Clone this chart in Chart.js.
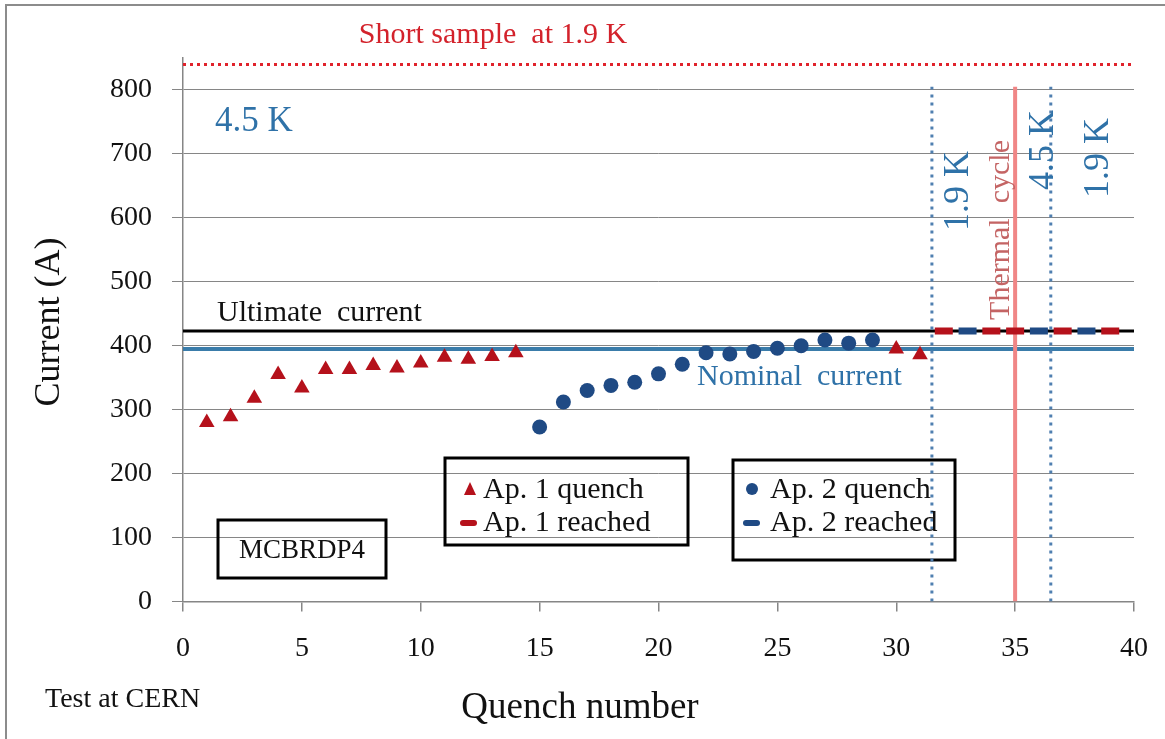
<!DOCTYPE html>
<html>
<head>
<meta charset="utf-8">
<script src="https://cdn.jsdelivr.net/npm/chart.js@4.4.0/dist/chart.umd.min.js"></script>
<style>
  html, body { margin: 0; padding: 0; background: #fff; }
  #wrap { position: relative; width: 1165px; height: 739px; overflow: hidden; }
  #chart { position: absolute; left: 0; top: 0; }
  #frame { position: absolute; left: 5px; top: 4px; width: 1200px; height: 800px;
           border: 2px solid #8c8c8c; box-sizing: border-box; pointer-events: none; }
</style>
</head>
<body>
<div id="wrap">
  <canvas id="chart" width="1165" height="739"></canvas>
  <div id="frame"></div>
</div>
<script>
// quench data
const ap1QuenchX = [1, 2, 3, 4, 5, 6, 7, 8, 9, 10, 11, 12, 13, 14, 30, 31];
const ap1QuenchY = [280, 289, 318, 355, 334, 363, 363, 369, 365, 373, 382, 379, 383, 389, 395, 386];
const ap2QuenchX = [15, 16, 17, 18, 19, 20, 21, 22, 23, 24, 25, 26, 27, 28, 29];
const ap2QuenchY = [273, 312, 330, 338, 343, 356, 371, 389, 387, 391, 396, 400, 409, 404, 409];
const ap1ReachedX = [32, 34, 35, 37, 39];
const ap2ReachedX = [33, 36, 38];
const reachedCurrent = 423;

// reference levels
const ultimateCurrent = 423;
const nominalCurrent = 395;
const shortSample = 840;
const thermalCycleX = 35;
const tempChangeX = [31.5, 36.5];
const verticalTop = 805;

const xTicks = [0, 5, 10, 15, 20, 25, 30, 35, 40];
const yTicks = [0, 100, 200, 300, 400, 500, 600, 700, 800];

const SERIF = "'Liberation Serif', 'DejaVu Serif', serif";
const RED = '#b5111b';
const DARKBLUE = '#1f4a84';
const LINEBLUE = '#3a7caa';
const TEXTBLUE = '#2f72a8';

const pts = (xs, ys) => xs.map((x, i) => ({x, y: Array.isArray(ys) ? ys[i] : ys}));
const hline = y => [{x: 0, y}, {x: 40, y}];
const vline = x => [{x, y: 0}, {x, y: verticalTop}];

const datasets = [
  {label: 'Ap. 1 quench', data: pts(ap1QuenchX, ap1QuenchY), pointStyle: 'triangle',
   pointRadius: 9, backgroundColor: RED, borderColor: RED, borderWidth: 0, order: 1},
  {label: 'Ap. 2 quench', data: pts(ap2QuenchX, ap2QuenchY), pointStyle: 'circle',
   pointRadius: 7.5, backgroundColor: DARKBLUE, borderColor: DARKBLUE, borderWidth: 0, order: 1},
  {label: 'Ap. 1 reached', data: pts(ap1ReachedX, reachedCurrent), pointStyle: 'line',
   pointRadius: 9, borderColor: RED, borderWidth: 7, order: 0},
  {label: 'Ap. 2 reached', data: pts(ap2ReachedX, reachedCurrent), pointStyle: 'line',
   pointRadius: 9, borderColor: DARKBLUE, borderWidth: 7, order: 0},
  {label: 'thermal', data: vline(thermalCycleX), showLine: true, pointRadius: 0,
   borderColor: '#f08686', borderWidth: 4, order: 2},
  {label: 'temp1', data: vline(tempChangeX[0]), showLine: true, pointRadius: 0,
   borderColor: '#4f7fb0', borderWidth: 3, borderDash: [3, 5], order: 3},
  {label: 'temp2', data: vline(tempChangeX[1]), showLine: true, pointRadius: 0,
   borderColor: '#4f7fb0', borderWidth: 3, borderDash: [3, 5], order: 3},
  {label: 'nominal', data: hline(nominalCurrent), showLine: true, pointRadius: 0,
   borderColor: LINEBLUE, borderWidth: 4, order: 4},
  {label: 'ultimate', data: hline(ultimateCurrent), showLine: true, pointRadius: 0,
   borderColor: '#000', borderWidth: 3, order: 5},
  {label: 'short sample', data: hline(shortSample), showLine: true, pointRadius: 0,
   borderColor: '#e0222b', borderWidth: 3, borderDash: [3, 4], order: 6}
];

function text(ctx, str, x, y, size, color, align, rot){
  ctx.save();
  ctx.translate(x, y);
  if(rot) ctx.rotate(rot);
  ctx.font = size + 'px ' + SERIF;
  ctx.fillStyle = color;
  ctx.textAlign = align || 'center';
  ctx.textBaseline = 'middle';
  ctx.fillText(str, 0, 0);
  ctx.restore();
}

function box(ctx, x1, y1, x2, y2){
  ctx.save();
  ctx.strokeStyle = '#000';
  ctx.lineWidth = 3;
  ctx.strokeRect(x1, y1, x2 - x1, y2 - y1);
  ctx.restore();
}

const annotations = {
  id: 'annotations',
  beforeDatasetsDraw(chart){
    const ctx = chart.ctx;
    box(ctx, 218, 520, 386, 578);
    box(ctx, 445, 458, 688, 545);
    box(ctx, 733, 460, 955, 560);
  },
  afterDatasetsDraw(chart){
    const ctx = chart.ctx;
    const xs = chart.scales.x;
    text(ctx, 'Short sample  at 1.9 K', 493, 35, 30, '#d3222b');
    text(ctx, '4.5 K', 254, 122, 35, TEXTBLUE);
    text(ctx, 'Ultimate  current', 217, 313, 30, '#111', 'left');
    text(ctx, 'Nominal  current', 697, 377, 30, TEXTBLUE, 'left');
    text(ctx, '1.9 K', xs.getPixelForValue(32.6), 191, 36, TEXTBLUE, 'center', -Math.PI / 2);
    text(ctx, 'Thermal  cycle', xs.getPixelForValue(34.4), 230, 30, '#c46464', 'center', -Math.PI / 2);
    text(ctx, '4.5 K', xs.getPixelForValue(36.2), 150, 36, TEXTBLUE, 'center', -Math.PI / 2);
    text(ctx, '1.9 K', xs.getPixelForValue(38.5), 158, 36, TEXTBLUE, 'center', -Math.PI / 2);
    text(ctx, 'MCBRDP4', 302, 551, 27, '#111');

    // legend symbols
    ctx.save();
    ctx.fillStyle = RED;
    ctx.beginPath();
    ctx.moveTo(470, 482); ctx.lineTo(476, 495); ctx.lineTo(464, 495); ctx.closePath();
    ctx.fill();
    ctx.strokeStyle = RED; ctx.lineWidth = 6; ctx.lineCap = 'round';
    ctx.beginPath(); ctx.moveTo(463, 523); ctx.lineTo(474, 523); ctx.stroke();
    ctx.fillStyle = DARKBLUE;
    ctx.beginPath(); ctx.arc(752, 489, 6, 0, Math.PI * 2); ctx.fill();
    ctx.strokeStyle = DARKBLUE;
    ctx.beginPath(); ctx.moveTo(746, 523); ctx.lineTo(757, 523); ctx.stroke();
    ctx.restore();
    text(ctx, 'Ap. 1 quench', 483, 490, 30, '#111', 'left');
    text(ctx, 'Ap. 1 reached', 483, 523, 30, '#111', 'left');
    text(ctx, 'Ap. 2 quench', 770, 490, 30, '#111', 'left');
    text(ctx, 'Ap. 2 reached', 770, 523, 30, '#111', 'left');

    // axis titles
    text(ctx, 'Current (A)', 50, 322, 36, '#111', 'center', -Math.PI / 2);
    text(ctx, 'Quench number', 580, 708, 37, '#111');
    text(ctx, 'Test at CERN', 45, 700, 28, '#111', 'left');
  }
};

new Chart(document.getElementById('chart').getContext('2d'), {
  type: 'scatter',
  data: {datasets},
  plugins: [annotations],
  options: {
    responsive: false,
    animation: false,
    devicePixelRatio: 1,
    layout: {padding: {left: 0, top: 58, right: 31, bottom: 0}},
    plugins: {legend: {display: false}, tooltip: {enabled: false}},
    scales: {
      x: {
        type: 'linear', min: 0, max: 40,
        afterBuildTicks: axis => { axis.ticks = xTicks.map(v => ({value: v})); },
        afterFit: s => { s.height = 137.5; s.paddingLeft = 0; s.paddingRight = 0; },
        grid: {drawOnChartArea: false, drawTicks: true, tickLength: 10, color: '#868686', lineWidth: 1.5},
        border: {color: '#868686', width: 1.5},
        ticks: {font: {family: SERIF, size: 28}, color: '#111', padding: 20, maxRotation: 0, autoSkip: false}
      },
      y: {
        min: 0, max: 850,
        afterBuildTicks: axis => { axis.ticks = yTicks.map(v => ({value: v})); },
        afterFit: s => { s.width = 183; s.paddingTop = 0; s.paddingBottom = 0; },
        grid: {color: '#868686', lineWidth: 1, tickLength: 11},
        border: {color: '#868686', width: 1.5},
        ticks: {font: {family: SERIF, size: 28}, color: '#111', padding: 20, autoSkip: false}
      }
    }
  }
});
</script>
</body>
</html>
